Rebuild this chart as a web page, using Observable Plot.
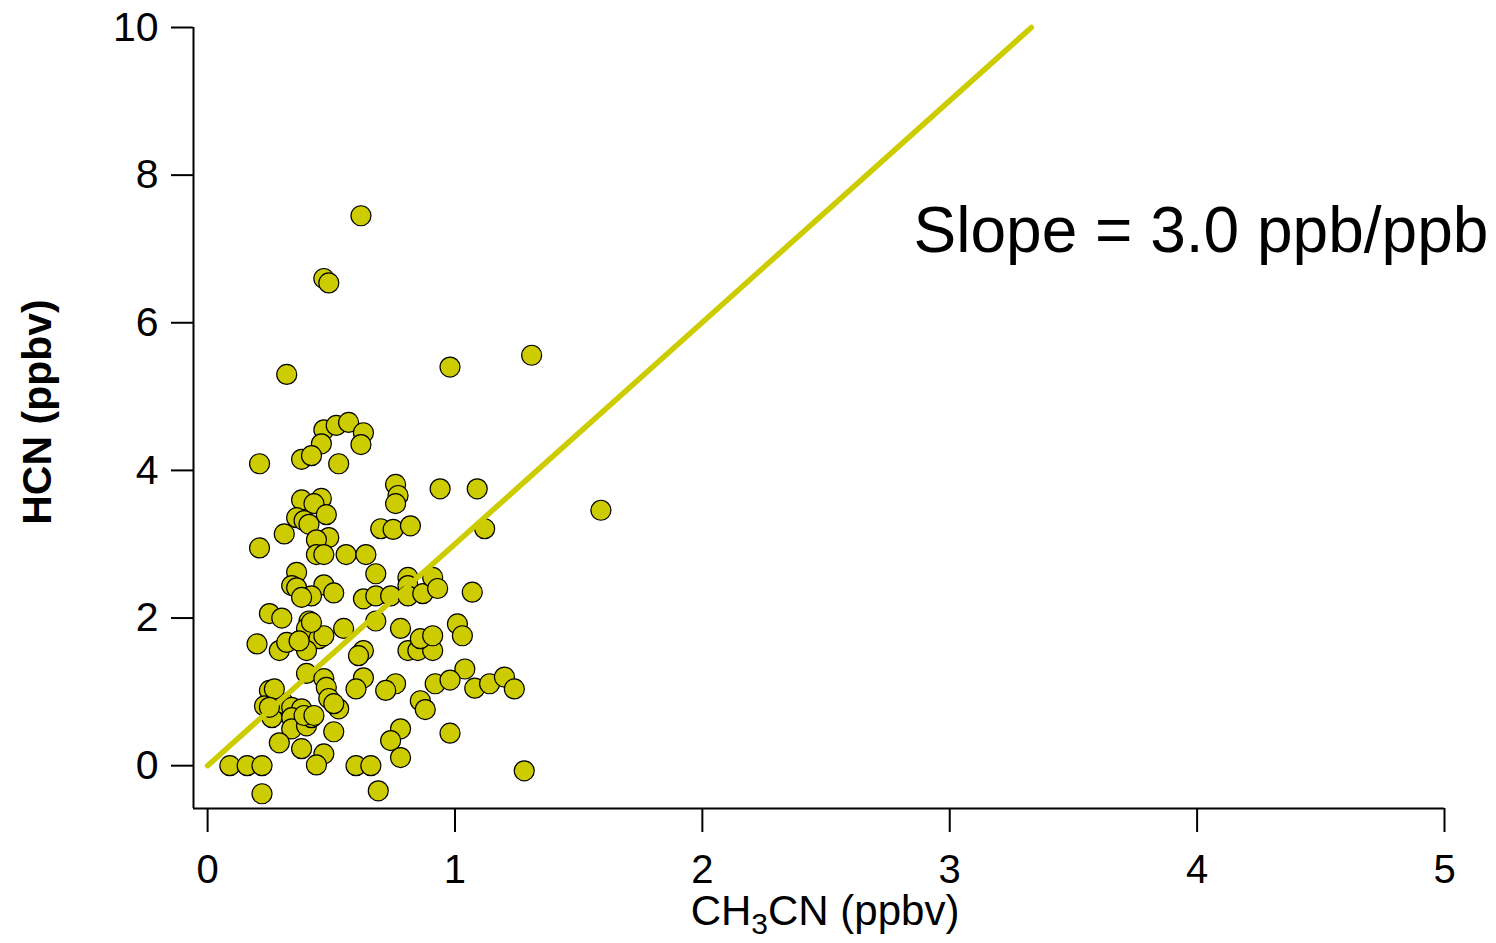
<!DOCTYPE html>
<html>
<head>
<meta charset="utf-8">
<script src="https://cdn.jsdelivr.net/npm/d3@7"></script>
<script src="https://cdn.jsdelivr.net/npm/@observablehq/plot@0.6"></script>
<style>
  html, body { margin: 0; padding: 0; background: #fff; }
  svg { display: block; }
</style>
</head>
<body>
<div id="chart"></div>
<script>
// CH3CN (ppbv) values of the samples
const ch3cn = [
  0.32, 0.47, 0.52, 0.57, 0.63, 0.62, 0.46, 0.38, 0.42, 0.53,
  0.21, 0.76, 0.77, 0.76, 0.38, 0.46, 0.43, 0.48, 0.36, 0.39,
  0.41, 0.31, 0.70, 0.75, 0.82, 0.21, 0.49, 0.44, 0.44, 0.47,
  0.56, 0.64, 0.36, 0.68, 0.81, 0.34, 0.36, 0.47, 0.51, 0.42,
  0.38, 0.63, 0.68, 0.68, 0.74, 0.81, 0.81, 0.87, 0.25, 0.30,
  0.41, 0.40, 0.45, 0.47, 0.55, 0.20, 0.29, 0.32, 0.40, 0.37,
  0.42, 0.78, 0.63, 0.61, 0.81, 0.85, 0.91, 0.86, 0.91, 0.40,
  0.47, 0.48, 0.63, 0.60, 0.76, 0.72, 0.25, 0.23, 0.26, 0.31,
  0.34, 0.38, 0.34, 0.34, 0.40, 0.42, 0.49, 0.53, 0.51, 0.29,
  0.38, 0.51, 0.47, 0.44, 0.09, 0.16, 0.22, 0.22, 0.60, 0.66,
  0.69, 0.78, 0.74, 0.78, 0.86, 0.88, 0.92, 1.59, 1.12, 0.94,
  1.09, 1.07, 0.91, 0.93, 1.01, 1.03, 1.04, 0.98, 1.08, 1.14,
  1.20, 1.24, 0.98, 1.28, 0.62, 0.47, 0.49, 0.98, 1.31, 0.27,
  0.25, 0.39, 0.43
];
// HCN (ppbv) values of the same samples
const hcn = [
  5.30, 4.55, 4.61, 4.65, 4.51, 4.35, 4.36, 4.15, 4.20, 4.09,
  4.09, 3.81, 3.66, 3.55, 3.60, 3.62, 3.55, 3.40, 3.36, 3.32,
  3.27, 3.14, 3.21, 3.20, 3.25, 2.95, 3.09, 3.06, 2.86, 2.86,
  2.86, 2.86, 2.62, 2.60, 2.55, 2.44, 2.41, 2.45, 2.34, 2.30,
  2.28, 2.26, 1.96, 2.30, 2.30, 2.44, 2.30, 2.33, 2.06, 2.00,
  1.96, 1.86, 1.72, 1.76, 1.86, 1.65, 1.56, 1.67, 1.56, 1.69,
  1.94, 1.86, 1.56, 1.49, 1.56, 1.56, 1.56, 1.72, 1.76, 1.25,
  1.18, 1.06, 1.19, 1.04, 1.11, 1.02, 1.02, 0.81, 0.65, 0.84,
  0.79, 0.77, 0.65, 0.50, 0.54, 0.65, 0.91, 0.77, 0.84, 0.31,
  0.23, 0.46, 0.16, 0.01, 0.00, 0.00, 0.00, -0.38, 0.00, 0.00,
  -0.34, 0.50, 0.34, 0.11, 0.88, 0.76, 1.11, 3.46, 3.21, 3.75,
  3.75, 2.35, 2.55, 2.40, 1.92, 1.76, 1.31, 1.16, 1.05, 1.11,
  1.20, 1.04, 0.44, -0.07, 7.45, 6.60, 6.54, 5.40, 5.56, 1.04,
  0.79, 0.68, 0.68
];
// Fitted line end points (slope 3.0 ppb/ppb)
const fitX = [0, 3.33];
const fitY = [0, 10];
// Axis setup
const xTicks = [0, 1, 2, 3, 4, 5];
const yTicks = [0, 2, 4, 6, 8, 10];
const xDomain = [-0.057, 5];
const yDomain = [-0.58, 10];
const slopeText = "Slope = 3.0 ppb/ppb";
const slopePos = {x: 2.854, y: 6.96};
const yTitle = "HCN (ppbv)";

const points = ch3cn.map((x, i) => ({x, y: hcn[i]}));
const fit = fitX.map((x, i) => ({x, y: fitY[i]}));
const olive = "#cccc00";
const font = "'Liberation Sans', Arial, Helvetica, sans-serif";

const plot = Plot.plot({
  width: 1496,
  height: 943,
  marginLeft: 193,
  marginRight: 52,
  marginTop: 27,
  marginBottom: 135,
  style: {fontFamily: font, fontSize: "40px", color: "#000", background: "#fff", overflow: "visible"},
  x: {domain: xDomain, label: null},
  y: {domain: yDomain, label: null},
  marks: [
    Plot.axisX({ticks: xTicks, tickSize: 24, tickPadding: 22, strokeWidth: 2, fontSize: 40, label: null, tickFormat: d3.format("d")}),
    Plot.axisY({ticks: yTicks, tickSize: 22, tickPadding: 13, strokeWidth: 2, fontSize: 41, label: null, tickFormat: d3.format("d")}),
    Plot.ruleX([xDomain[0]], {stroke: "#000", strokeWidth: 2}),
    Plot.ruleY([yDomain[0]], {stroke: "#000", strokeWidth: 2}),
    Plot.dot(points, {x: "x", y: "y", r: 10, fill: olive, stroke: "#000", strokeWidth: 1.2}),
    Plot.line(fit, {x: "x", y: "y", stroke: olive, strokeWidth: 5.5}),
    Plot.text([slopeText], {x: () => slopePos.x, y: () => slopePos.y, text: d => d, textAnchor: "start", lineAnchor: "bottom", fontSize: 64, fill: "#000"}),
    Plot.text([yTitle], {frameAnchor: "left", text: d => d, textAnchor: "middle", lineAnchor: "middle", rotate: -90, dx: -156, dy: -6, fontSize: 41, fontWeight: "bold", fill: "#000"})
  ]
});

// x-axis title with subscript
const svg = d3.select(plot);
const xt = svg.append("text")
  .attr("x", 825)
  .attr("y", 925)
  .attr("text-anchor", "middle")
  .attr("font-family", font)
  .attr("font-size", 42)
  .attr("fill", "#000");
xt.append("tspan").text("CH");
xt.append("tspan").attr("font-size", 30).attr("dy", 9).text("3");
xt.append("tspan").attr("dy", -9).text("CN (ppbv)");

document.getElementById("chart").appendChild(plot);
</script>
</body>
</html>
